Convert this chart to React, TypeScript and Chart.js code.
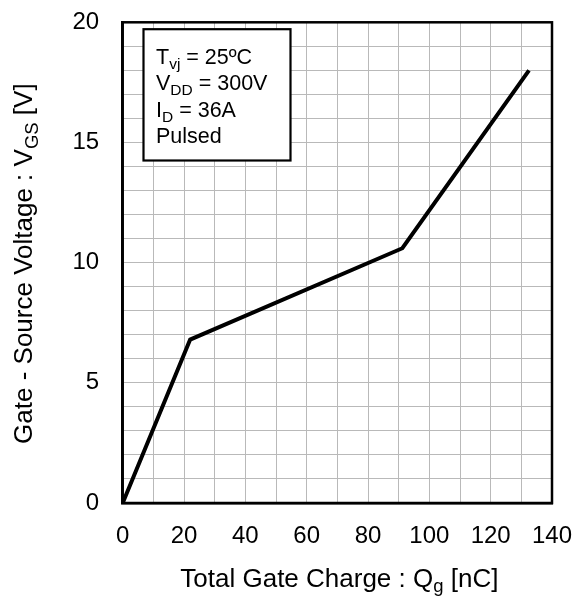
import React, { useEffect, useRef } from "react";
import { Chart, registerables } from "chart.js";

Chart.register(...registerables);

// Data
const chargeNC = [0, 22, 91.2, 132.5];
const voltageV = [0, 6.8, 10.6, 18];

// Tick labels shown (grid is finer)
const xTickLabels = [0, 20, 40, 60, 80, 100, 120, 140];
const yTickLabels = [0, 5, 10, 15, 20];

const legendLines: Array<Array<[string, boolean]>> = [
  [["T", false], ["vj", true], [" = 25ºC", false]],
  [["V", false], ["DD", true], [" = 300V", false]],
  [["I", false], ["D", true], [" = 36A", false]],
  [["Pulsed", false]],
];
const xTitleParts: Array<[string, boolean]> = [["Total Gate Charge : Q", false], ["g", true], [" [nC]", false]];
const yTitleParts: Array<[string, boolean]> = [["Gate - Source Voltage : V", false], ["GS", true], [" [V]", false]];

const FONT = "'Liberation Sans', Arial, sans-serif";

function drawRich(
  ctx: CanvasRenderingContext2D,
  parts: Array<[string, boolean]>,
  x: number,
  y: number,
  size: number,
  subSize: number,
  subShift: number,
  align: "left" | "center"
) {
  const widths = parts.map(([t, sub]) => {
    ctx.font = `${sub ? subSize : size}px ${FONT}`;
    return ctx.measureText(t).width;
  });
  const total = widths.reduce((a, b) => a + b, 0);
  let cx = align === "center" ? x - total / 2 : x;
  ctx.textAlign = "left";
  ctx.textBaseline = "alphabetic";
  parts.forEach(([t, sub], i) => {
    ctx.font = `${sub ? subSize : size}px ${FONT}`;
    ctx.fillText(t, cx, sub ? y + subShift : y);
    cx += widths[i];
  });
}

const overlay = {
  id: "overlay",
  afterDatasetsDraw(chart: any) {
    const ctx: CanvasRenderingContext2D = chart.ctx;
    const { left, right, top, bottom } = chart.chartArea;
    ctx.save();
    // plot frame
    ctx.strokeStyle = "#000";
    ctx.lineWidth = 2.5;
    ctx.strokeRect(left, top, right - left, bottom - top);

    // legend box
    ctx.fillStyle = "#fff";
    ctx.fillRect(143.5, 29.2, 147, 131.3);
    ctx.lineWidth = 2.2;
    ctx.strokeRect(143.5, 29.2, 147, 131.3);
    ctx.fillStyle = "#000";
    const baselines = [64, 90.3, 116.6, 143];
    legendLines.forEach((parts, i) => {
      drawRich(ctx, parts, 156, baselines[i], 21.5, 15.5, 5, "left");
    });

    // x axis title
    drawRich(ctx, xTitleParts, (left + right) / 2 + 2, 586.5, 26, 18.5, 5, "center");

    // y axis title
    ctx.save();
    ctx.translate(31.5, (top + bottom) / 2 + 1);
    ctx.rotate(-Math.PI / 2);
    drawRich(ctx, yTitleParts, 0, 0, 26, 18.5, 6, "center");
    ctx.restore();

    ctx.restore();
  },
};

export default function App() {
  const ref = useRef<HTMLCanvasElement | null>(null);

  useEffect(() => {
    if (!ref.current) return;
    const chart = new Chart(ref.current, {
      type: "line",
      data: {
        datasets: [
          {
            data: chargeNC.map((x, i) => ({ x, y: voltageV[i] })),
            borderColor: "#000",
            borderWidth: 4,
            pointRadius: 0,
            tension: 0,
            fill: false,
            borderJoinStyle: "miter",
          },
        ],
      },
      options: {
        animation: false,
        responsive: false,
        devicePixelRatio: 1,
        layout: { padding: { left: 0, top: 22.3, right: 24, bottom: 0 } },
        plugins: { legend: { display: false }, tooltip: { enabled: false }, title: { display: false } },
        scales: {
          x: {
            type: "linear",
            min: 0,
            max: 140,
            afterFit: (s: any) => {
              s.height = 94;
              s.paddingLeft = 0;
              s.paddingRight = 0;
              s.paddingTop = 0;
              s.paddingBottom = 0;
            },
            ticks: {
              stepSize: 10,
              autoSkip: false,
              maxRotation: 0,
              padding: 19,
              color: "#000",
              font: { family: FONT, size: 24 },
              callback: (v: any) => (xTickLabels.includes(Number(v)) ? String(v) : ""),
            },
            grid: { color: "#b9b9b9", lineWidth: 1, drawTicks: false },
            border: { display: true, color: "#000", width: 2.5 },
          },
          y: {
            min: 0,
            max: 20,
            afterFit: (s: any) => {
              s.width = 122.7;
              s.paddingLeft = 0;
              s.paddingRight = 0;
              s.paddingTop = 0;
              s.paddingBottom = 0;
            },
            ticks: {
              stepSize: 1,
              autoSkip: false,
              padding: 23.5,
              color: "#000",
              font: { family: FONT, size: 24 },
              callback: (v: any) => (yTickLabels.includes(Number(v)) ? String(v) : ""),
            },
            grid: { color: "#b9b9b9", lineWidth: 1, drawTicks: false },
            border: { display: true, color: "#000", width: 2.5 },
          },
        },
      },
      plugins: [overlay],
    } as any);
    return () => chart.destroy();
  }, []);

  return (
    <div style={{ position: "absolute", left: 0, top: 0, width: 576, height: 597, background: "#fff" }}>
      <canvas ref={ref} width={576} height={597} style={{ width: 576, height: 597, display: "block" }} />
    </div>
  );
}
